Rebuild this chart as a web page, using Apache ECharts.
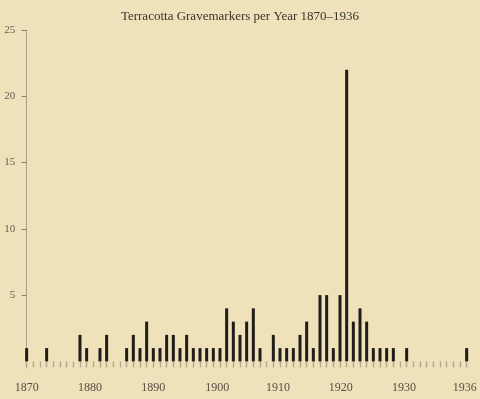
<!DOCTYPE html>
<html>
<head>
<meta charset="utf-8">
<script src="https://cdn.jsdelivr.net/npm/echarts@6/dist/echarts.min.js"></script>
<style>
  html, body { margin: 0; padding: 0; background: #eee1b9; }
  #chart { width: 480px; height: 399px; }
</style>
</head>
<body>
<div id="chart"></div>
<script>
// ---- data ----
const years = [];
for (let y = 1870; y <= 1936; y++) years.push(String(y));

const markers = [
  1, 0, 0, 1, 0, 0, 0, 0, 2, 1,   // 1870-1879
  0, 1, 2, 0, 0, 1, 2, 1, 3, 1,   // 1880-1889
  1, 2, 2, 1, 2, 1, 1, 1, 1, 1,   // 1890-1899
  4, 3, 2, 3, 4, 1, 0, 2, 1, 1,   // 1900-1909
  1, 2, 3, 1, 5, 5, 1, 5, 22, 3,  // 1910-1919
  4, 3, 1, 1, 1, 1, 0, 1, 0, 0,   // 1920-1929
  0, 0, 0, 0, 0, 0, 1             // 1930-1936
];

const tickLabels = ['1870', '1880', '1890', '1900', '1910', '1920', '1930', '1936'];
const yTicks = [5, 10, 15, 20, 25];

// ---- layout (label placement as in the reference print) ----
const labelSlots = [0, 9.5, 19, 28.6, 37.7, 47.1, 56.6, 65.7];

const chart = echarts.init(document.getElementById('chart'), null, { renderer: 'canvas' });
const serif = '"Liberation Serif", "DejaVu Serif", serif';

chart.setOption({
  backgroundColor: '#efe2ba',
  animation: false,
  title: {
    text: 'Terracotta Gravemarkers per Year 1870–1936',
    left: 'center',
    top: 5,
    textStyle: { fontFamily: serif, fontSize: 13, fontWeight: 'normal', color: '#3b342d' }
  },
  grid: { left: 23.3, right: 10, top: 30, bottom: 31 },
  xAxis: [
    {
      type: 'category',
      data: years,
      boundaryGap: true,
      axisLine: { show: false, onZero: true },
      axisTick: { show: true, interval: 0, alignWithLabel: true, length: 6, lineStyle: { color: '#b3a78f', width: 1.4 } },
      axisLabel: { show: false, interval: 0 }
    },
    {
      type: 'value',
      min: -0.5,
      max: 66.5,
      position: 'bottom',
      axisLine: { show: false, onZero: true },
      axisTick: { show: false },
      splitLine: { show: false },
      axisLabel: {
        show: true,
        customValues: labelSlots,
        margin: 14,
        fontFamily: serif,
        fontSize: 12,
        color: '#564d43',
        formatter: function (v) {
          const i = labelSlots.indexOf(v);
          return i >= 0 ? tickLabels[i] : '';
        }
      }
    }
  ],
  yAxis: {
    type: 'value',
    min: -0.5,
    max: 25,
    splitLine: { show: false },
    axisLine: { show: true, lineStyle: { color: '#a99e8a', width: 1 } },
    axisTick: { show: true, inside: false, customValues: yTicks, length: 5, lineStyle: { color: '#8a806d', width: 1 } },
    axisLabel: {
      customValues: yTicks,
      margin: 8,
      fontFamily: serif,
      fontSize: 11,
      color: '#6a6054'
    }
  },
  series: [{
    type: 'bar',
    xAxisIndex: 0,
    data: markers,
    barWidth: 3,
    itemStyle: { color: '#1f1c19' }
  }]
});
</script>
</body>
</html>
